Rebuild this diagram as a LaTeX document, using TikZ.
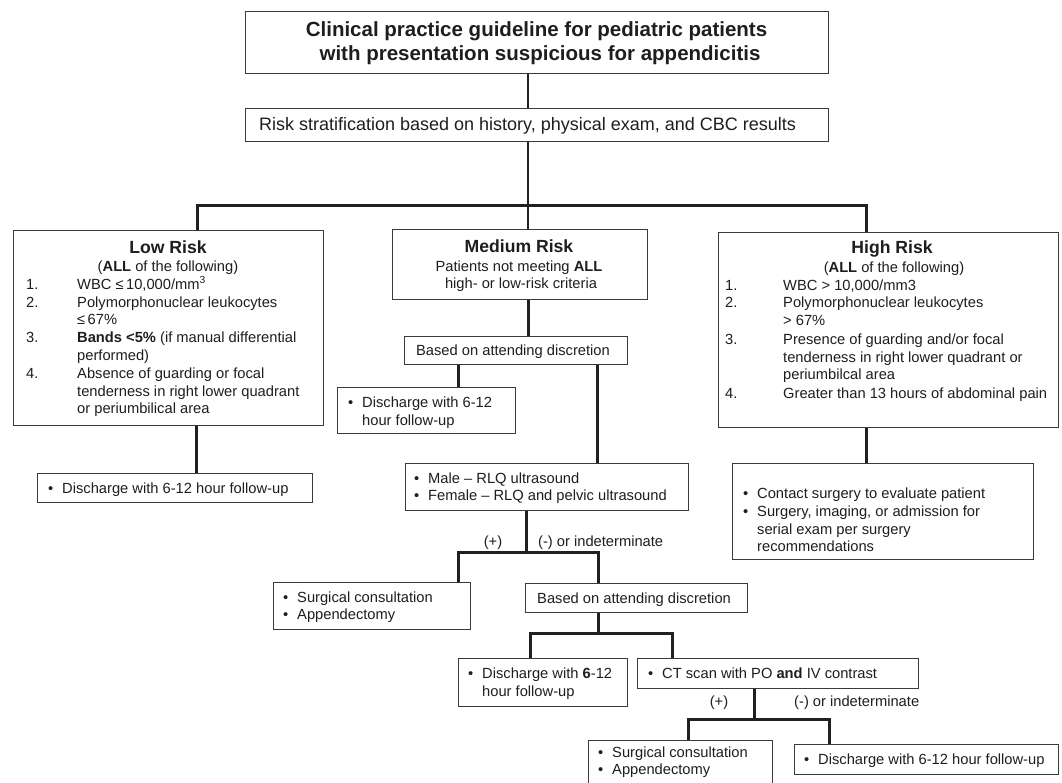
\documentclass[tikz,border=0pt]{standalone}
\usepackage{fontspec}
\setmainfont{Liberation Sans}
\definecolor{ln}{HTML}{231F20}
\definecolor{bx}{HTML}{3A3A3A}
\definecolor{tx}{HTML}{1E1E1E}
\newcommand\fsbody{\fontsize{14.7}{17}\selectfont}
\newcommand\fshead{\fontsize{17.6}{20}\selectfont\bfseries}
\newcommand\fstitle{\fontsize{20.5}{23}\selectfont\bfseries}
\newcommand\fsrisk{\fontsize{18}{21}\selectfont}
\newcommand\mybul{\llap{•\hspace{9pt}}}
\begin{document}
\begin{tikzpicture}[x=1pt,y=-1pt,
 box/.style={draw=bx, line width=1.2pt, anchor=north west, inner sep=0pt},
 conn/.style={draw=ln, line width=3pt},
 thinconn/.style={draw=ln, line width=2.6pt},
 tl/.style={inner sep=0pt, anchor=base west, font=\fsbody, text=tx},
 tc/.style={inner sep=0pt, anchor=base, font=\fsbody, text=tx},
 hd/.style={inner sep=0pt, anchor=base, font=\fshead, text=tx},
]
\fill[white] (0,0) rectangle (1062,782);
\useasboundingbox (0,0) rectangle (1062,782);

% boxes
\node[box, minimum width=583pt, minimum height=62pt] (title) at (245,11) {};
\node[box, minimum width=583pt, minimum height=33pt] (risk) at (245,108) {};
\node[box, minimum width=310pt, minimum height=195pt] (low) at (13,230) {};
\node[box, minimum width=255pt, minimum height=70pt] (medium) at (392,229) {};
\node[box, minimum width=340pt, minimum height=195pt] (high) at (718,232) {};
\node[box, minimum width=223pt, minimum height=28pt] (based1) at (404,336) {};
\node[box, minimum width=178pt, minimum height=46pt] (dmed) at (337,387) {};
\node[box, minimum width=275pt, minimum height=29pt] (lowout) at (37,473) {};
\node[box, minimum width=301pt, minimum height=96pt] (highout) at (732,463) {};
\node[box, minimum width=283pt, minimum height=47pt] (us) at (405,463) {};
\node[box, minimum width=197pt, minimum height=47pt] (surg1) at (273,582) {};
\node[box, minimum width=222pt, minimum height=29pt] (based2) at (525,583) {};
\node[box, minimum width=169pt, minimum height=48pt] (disc2) at (458,658) {};
\node[box, minimum width=281pt, minimum height=30pt] (ct) at (637,658) {};
\node[box, minimum width=184pt, minimum height=44pt] (surg2) at (588,740) {};
\node[box, minimum width=264pt, minimum height=30pt] (disc3) at (794,744) {};

% junction coordinates
\coordinate (cM) at (528,0);
\coordinate (busL) at (197,205);
\coordinate (busR) at (866,205);
\coordinate (cLo) at (196,0);
\coordinate (cB1L) at (458,0);
\coordinate (cB1R) at (597,0);
\coordinate (cUS) at (526,0);
\coordinate (b2L) at (458,552);
\coordinate (b2R) at (598,552);
\coordinate (cB2) at (598,0);
\coordinate (b3L) at (530,633);
\coordinate (b3R) at (672,633);
\coordinate (cCT) at (754,0);
\coordinate (b4L) at (688,719);
\coordinate (b4R) at (829,719);

% connectors
\draw[thinconn] (title.south -| cM) -- (risk.north -| cM);
\draw[thinconn] (risk.south -| cM) -- (medium.north -| cM);
\draw[conn] (low.north -| busL) -- (busL) -- (busR) -- (high.north -| busR);
\draw[conn] (low.south -| cLo) -- (lowout.north -| cLo);
\draw[conn] (high.south -| busR) -- (highout.north -| busR);
\draw[conn] (medium.south -| cM) -- (based1.north -| cM);
\draw[conn] (based1.south -| cB1L) -- (dmed.north -| cB1L);
\draw[conn] (based1.south -| cB1R) -- (us.north -| cB1R);
\draw[conn] (us.south -| cUS) -- (cUS |- b2L);
\draw[conn] (surg1.north -| b2L) -- (b2L) -- (b2R) -- (based2.north -| b2R);
\draw[conn] (based2.south -| cB2) -- (cB2 |- b3L);
\draw[conn] (disc2.north -| b3L) -- (b3L) -- (b3R) -- (ct.north -| b3R);
\draw[conn] (ct.south -| cCT) -- (cCT |- b4L);
\draw[conn] (surg2.north -| b4L) -- (b4L) -- (b4R) -- (disc3.north -| b4R);

% title and risk
\node[inner sep=0pt, anchor=base, font=\fstitle, text=tx] (tt1) at (536.5,36) {Clinical practice guideline for pediatric patients};
\node[inner sep=0pt, anchor=base, font=\fstitle, text=tx] (tt2) at (540,60) {with presentation suspicious for appendicitis};
\node[inner sep=0pt, anchor=base, font=\fsrisk, text=tx] (tr) at (527.5,130) {Risk stratification based on history, physical exam, and CBC results};

% low risk
\node[hd] (lh) at (168,253) {Low Risk};
\node[tc] (la) at (168,271) {(\textbf{ALL} of the following)};
\node[tl] (ln1) at (26,289) {1.};
\node[tl] (lt1) at (77,289) {WBC ≤\,10,000/mm\textsuperscript{3}};
\node[tl] (ln2) at (26,307) {2.};
\node[tl] (lt2) at (77,307) {Polymorphonuclear leukocytes};
\node[tl] (lt2b) at (77,324) {≤\,67\%};
\node[tl] (ln3) at (26,342) {3.};
\node[tl] (lt3) at (77,342) {\textbf{Bands <5\%} (if manual differential};
\node[tl] (lt3b) at (77,360) {performed)};
\node[tl] (ln4) at (26,378) {4.};
\node[tl] (lt4) at (77,378) {Absence of guarding or focal};
\node[tl] (lt4b) at (77,396) {tenderness in right lower quadrant};
\node[tl] (lt4c) at (77,413) {or periumbilical area};

% medium risk
\node[hd] (mh) at (519,252) {Medium Risk};
\node[tc] (ma) at (519,271) {Patients not meeting \textbf{ALL}};
\node[tc] (mb) at (521,288) {high- or low-risk criteria};

% high risk
\node[hd] (hh) at (892,253) {High Risk};
\node[tc] (ha) at (894,272) {(\textbf{ALL} of the following)};
\node[tl] (hn1) at (725,290) {1.};
\node[tl] (ht1) at (783,290) {WBC > 10,000/mm3};
\node[tl] (hn2) at (725,307) {2.};
\node[tl] (ht2) at (783,307) {Polymorphonuclear leukocytes};
\node[tl] (ht2b) at (783,325) {> 67\%};
\node[tl] (hn3) at (725,344) {3.};
\node[tl] (ht3) at (783,344) {Presence of guarding and/or focal};
\node[tl] (ht3b) at (783,362) {tenderness in right lower quadrant or};
\node[tl] (ht3c) at (783,379) {periumbilcal area};
\node[tl] (hn4) at (725,398) {4.};
\node[tl] (ht4) at (783,398) {Greater than 13 hours of abdominal pain};

% other boxes
\node[tc] (b1t) at (513,355) {Based on attending discretion};
\node[tl] (dm1) at (362,407) {\mybul Discharge with 6-12};
\node[tl] (dm2) at (362,425) {hour follow-up};
\node[tl] (lo1) at (62,493) {\mybul Discharge with 6-12 hour follow-up};
\node[tl] (ho1) at (757,498) {\mybul Contact surgery to evaluate patient};
\node[tl] (ho2) at (757,516) {\mybul Surgery, imaging, or admission for};
\node[tl] (ho3) at (757,534) {serial exam per surgery};
\node[tl] (ho4) at (757,551) {recommendations};
\node[tl] (us1) at (428,483) {\mybul Male – RLQ ultrasound};
\node[tl] (us2) at (428,500) {\mybul Female – RLQ and pelvic ultrasound};
\node[tc] (lp1) at (493,546) {(+)};
\node[tl] (lm1) at (538,546) {(-) or indeterminate};
\node[tl] (s11) at (297,602) {\mybul Surgical consultation};
\node[tl] (s12) at (297,619) {\mybul Appendectomy};
\node[tl] (b2t) at (537,603) {Based on attending discretion};
\node[tl] (d21) at (482,678) {\mybul Discharge with \textbf{6}-12};
\node[tl] (d22) at (482,696) {hour follow-up};
\node[tl] (ct1) at (662,678) {\mybul CT scan with PO \textbf{and} IV contrast};
\node[tc] (lp2) at (719,706) {(+)};
\node[tl] (lm2) at (794,706) {(-) or indeterminate};
\node[tl] (s21) at (612,757) {\mybul Surgical consultation};
\node[tl] (s22) at (612,774) {\mybul Appendectomy};
\node[tl] (d31) at (818,764) {\mybul Discharge with 6-12 hour follow-up};
\end{tikzpicture}
\end{document}
